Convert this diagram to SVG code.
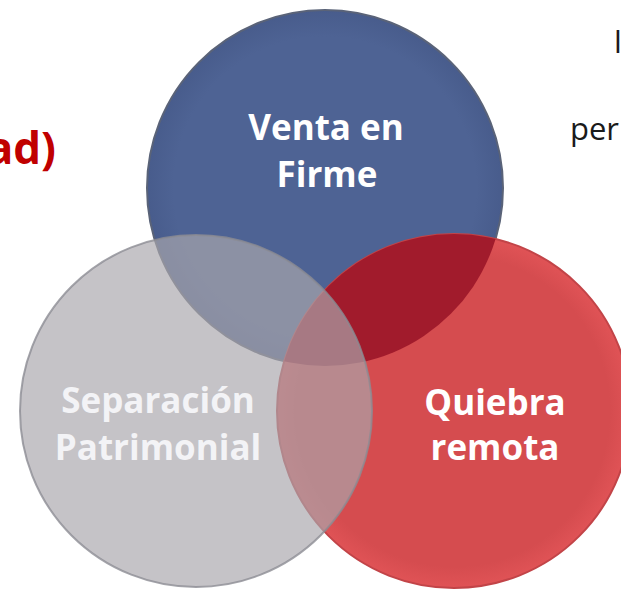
<svg xmlns="http://www.w3.org/2000/svg" width="621" height="589" viewBox="0 0 621 589">
  <style>
    .lbl { font-family: "Open Sans", "Liberation Sans", sans-serif; font-weight: 700; font-size: 35px; text-anchor: middle; }
    .w { fill: #FFFFFF; }
    .g { fill: #F3F3F6; }
    .side { font-family: "Open Sans", "Liberation Sans", sans-serif; font-size: 31px; fill: #1A1A1A; }
  </style>
  <defs>
    <clipPath id="clipBlue">
      <circle cx="325" cy="188" r="178"/>
    </clipPath>
    <radialGradient id="gBlue" cx="0.5" cy="0.5" r="0.5">
      <stop offset="0.85" stop-color="#4E6394"/>
      <stop offset="1" stop-color="#485C8C"/>
    </radialGradient>
    <radialGradient id="gRed" cx="0.5" cy="0.5" r="0.5">
      <stop offset="0.88" stop-color="#D54C4F"/>
      <stop offset="1" stop-color="#E05356"/>
    </radialGradient>
  </defs>

  <g id="title-fragment">
    <text x="56" y="164" font-family="Open Sans, Liberation Sans, sans-serif" font-weight="700" font-size="44" fill="#C00000" text-anchor="end">ad)</text>
  </g>
  <g id="side-text">
    <text class="side" x="614" y="53">l</text>
    <text class="side" x="570" y="140">per</text>
  </g>

  <g id="connectors"></g>

  <g id="node-venta">
    <circle cx="325" cy="188" r="178" fill="url(#gBlue)" stroke="#5A6378" stroke-width="2"/>
    <text class="lbl w" x="326" y="140">Venta en</text>
    <text class="lbl w" x="327" y="187">Firme</text>
  </g>

  <g id="node-quiebra">
    <circle cx="454" cy="411" r="177" fill="url(#gRed)" stroke="#C24448" stroke-width="2"/>
    <circle cx="454" cy="411" r="177" fill="#A11B2C" clip-path="url(#clipBlue)"/>
    <text class="lbl w" x="495" y="415">Quiebra</text>
    <text class="lbl w" x="495" y="460">remota</text>
  </g>

  <g id="node-separacion">
    <circle cx="196" cy="411" r="176" fill="#A9A7AD" fill-opacity="0.68" stroke="#8C8C94" stroke-width="2" stroke-opacity="0.8"/>
    <text class="lbl g" x="158" y="413">Separación</text>
    <text class="lbl g" x="158" y="460">Patrimonial</text>
  </g>
</svg>
